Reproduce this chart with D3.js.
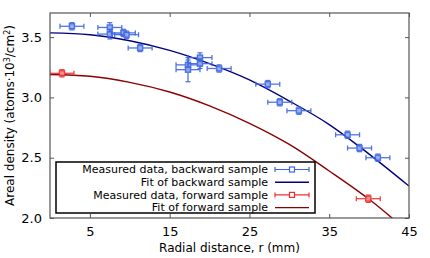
<!DOCTYPE html>
<html>
<head>
<meta charset="utf-8">
<script src="https://cdn.jsdelivr.net/npm/d3@7"></script>
<style>
  body { margin: 0; background: #fff; }
  text { font-family: "DejaVu Sans", sans-serif; fill: #000; }
</style>
</head>
<body>
<div id="chart"></div>
<script>
// measured data, backward sample: r (mm), density, errors
var backR    = [2.75, 7.5, 7.5, 9.2, 9.6, 11.3, 17.3, 17.3, 18.8, 18.8, 21.2, 27.3, 28.8, 31.2, 37.3, 38.8, 41.1];
var backV    = [3.59, 3.58, 3.525, 3.535, 3.52, 3.41, 3.27, 3.23, 3.33, 3.28, 3.24, 3.11, 2.96, 2.89, 2.69, 2.58, 2.50];
var backRErr = [1.5, 1.5, 1.5, 1.5, 1.5, 1.5, 1.5, 1.5, 1.5, 1.5, 1.5, 1.5, 1.5, 1.5, 1.5, 1.5, 1.5];
var backVErr = [0.03, 0.04, 0.04, 0.03, 0.03, 0.03, 0.04, 0.10, 0.04, 0.04, 0.03, 0.03, 0.03, 0.03, 0.03, 0.03, 0.03];

// measured data, forward sample
var fwdR    = [1.5, 39.9];
var fwdV    = [3.20, 2.16];
var fwdRErr = [1.5, 1.5];
var fwdVErr = [0.03, 0.03];

// fit curves
var fitR    = [0, 5, 10, 15, 20, 25, 30, 35, 40, 45];
var fitBack = [3.535, 3.52, 3.47, 3.39, 3.28, 3.145, 2.97, 2.775, 2.53, 2.265];
var fitFwd  = [3.19, 3.175, 3.125, 3.045, 2.93, 2.785, 2.61, 2.39, 2.155, 1.88];

var xTicks = [5, 15, 25, 35, 45];
var yTicks = [2.0, 2.5, 3.0, 3.5];

var legendLabels = ["Measured data, backward sample", "Fit of backward sample",
                    "Measured data, forward sample", "Fit of forward sample"];

var w = 430, h = 258;
var m = {left: 50, right: 21, top: 13, bottom: 40};
var iw = w - m.left - m.right, ih = h - m.top - m.bottom;

var svg = d3.select("#chart").append("svg")
    .attr("width", w).attr("height", h);

var x = d3.scaleLinear().domain([0, 45]).range([0, iw]);
var y = d3.scaleLinear().domain([2.0, 3.7]).range([ih, 0]);

var g = svg.append("g").attr("transform", "translate(" + m.left + "," + m.top + ")");

g.append("clipPath").attr("id", "clip")
  .append("rect").attr("width", iw).attr("height", ih);

// axes with inward ticks, mirrored top and right
var fmt = d3.format(".1f");
g.append("g").attr("transform", "translate(0," + ih + ")")
  .call(d3.axisBottom(x).tickValues(xTicks).tickSizeInner(-4).tickSizeOuter(0).tickPadding(9))
  .call(function(a) { a.select(".domain").remove(); a.selectAll("text").attr("font-size", 13); });
g.append("g")
  .call(d3.axisTop(x).tickValues(xTicks).tickSizeInner(-4).tickSizeOuter(0).tickFormat(""))
  .call(function(a) { a.select(".domain").remove(); });
g.append("g")
  .call(d3.axisLeft(y).tickValues(yTicks).tickFormat(fmt).tickSizeInner(-4).tickSizeOuter(0).tickPadding(8))
  .call(function(a) { a.select(".domain").remove(); a.selectAll("text").attr("font-size", 13); });
g.append("g").attr("transform", "translate(" + iw + ",0)")
  .call(d3.axisRight(y).tickValues(yTicks).tickSizeInner(-4).tickSizeOuter(0).tickFormat(""))
  .call(function(a) { a.select(".domain").remove(); });
g.selectAll(".tick line").attr("stroke", "#555");

var plot = g.append("g").attr("clip-path", "url(#clip)");

// fit lines
var line = d3.line().curve(d3.curveMonotoneX)
  .x(function(d) { return x(d[0]); })
  .y(function(d) { return y(d[1]); });

plot.append("path").datum(d3.zip(fitR, fitFwd))
  .attr("d", line).attr("fill", "none").attr("stroke", "#8b0000").attr("stroke-width", 1.4);
plot.append("path").datum(d3.zip(fitR, fitBack))
  .attr("d", line).attr("fill", "none").attr("stroke", "#000080").attr("stroke-width", 1.4);

function drawPoints(rs, vs, re, ve, color, fill) {
  var data = rs.map(function(r, i) { return {r: r, v: vs[i], re: re[i], ve: ve[i]}; });
  var pts = plot.append("g").selectAll("g").data(data).enter().append("g")
    .attr("stroke", color).attr("stroke-width", 1.3).attr("opacity", 0.9);
  pts.append("line")
    .attr("x1", function(d) { return x(d.r - d.re); }).attr("x2", function(d) { return x(d.r + d.re); })
    .attr("y1", function(d) { return y(d.v); }).attr("y2", function(d) { return y(d.v); });
  pts.append("line")
    .attr("x1", function(d) { return x(d.r); }).attr("x2", function(d) { return x(d.r); })
    .attr("y1", function(d) { return y(d.v - d.ve); }).attr("y2", function(d) { return y(d.v + d.ve); });
  // caps
  [-1, 1].forEach(function(s) {
    pts.append("line")
      .attr("x1", function(d) { return x(d.r + s * d.re); }).attr("x2", function(d) { return x(d.r + s * d.re); })
      .attr("y1", function(d) { return y(d.v) - 2.5; }).attr("y2", function(d) { return y(d.v) + 2.5; });
    pts.append("line")
      .attr("x1", function(d) { return x(d.r) - 2.5; }).attr("x2", function(d) { return x(d.r) + 2.5; })
      .attr("y1", function(d) { return y(d.v + s * d.ve); }).attr("y2", function(d) { return y(d.v + s * d.ve); });
  });
  pts.append("rect")
    .attr("x", function(d) { return x(d.r) - 2.5; }).attr("y", function(d) { return y(d.v) - 2.5; })
    .attr("width", 5).attr("height", 5).attr("fill", fill).attr("stroke-width", 1.5);
}

drawPoints(backR, backV, backRErr, backVErr, "#3f66e0", "#8fa6ee");
drawPoints(fwdR, fwdV, fwdRErr, fwdVErr, "#f03030", "#f59090");

// frame
g.append("rect").attr("width", iw).attr("height", ih)
  .attr("fill", "none").attr("stroke", "#555").attr("stroke-width", 1.2);

// legend
var lg = svg.append("g").attr("transform", "translate(56,162)");
lg.append("rect").attr("width", 259).attr("height", 51)
  .attr("fill", "#fff").attr("stroke", "#000").attr("stroke-width", 1.5);
var styles = [
  {color: "#3f66e0", fill: "#fff", marker: true},
  {color: "#000080", marker: false},
  {color: "#f03030", fill: "#fff", marker: true},
  {color: "#8b0000", marker: false}
];
legendLabels.forEach(function(lab, i) {
  var yy = 7.5 + i * 12.7;
  lg.append("text").attr("x", 212).attr("y", yy).attr("dy", "0.35em")
    .attr("text-anchor", "end").attr("font-size", 11).text(lab);
  var s = styles[i];
  var it = lg.append("g").attr("stroke", s.color).attr("stroke-width", s.marker ? 1.2 : 1.4);
  it.append("line").attr("x1", 219).attr("x2", 253).attr("y1", yy).attr("y2", yy);
  if (s.marker) {
    it.append("line").attr("x1", 219).attr("x2", 219).attr("y1", yy - 2.5).attr("y2", yy + 2.5);
    it.append("line").attr("x1", 253).attr("x2", 253).attr("y1", yy - 2.5).attr("y2", yy + 2.5);
    it.append("rect").attr("x", 233.5).attr("y", yy - 2.5).attr("width", 5).attr("height", 5)
      .attr("fill", s.fill);
  }
});

// axis titles
svg.append("text").attr("x", m.left + iw / 2).attr("y", 252)
  .attr("text-anchor", "middle").attr("font-size", 12).text("Radial distance, r (mm)");

var yl = svg.append("text").attr("transform", "translate(14," + (m.top + ih / 2) + ") rotate(-90)")
  .attr("text-anchor", "middle").attr("font-size", 12);
yl.append("tspan").text("Areal density (atoms\u00b710");
yl.append("tspan").attr("baseline-shift", "super").attr("font-size", 8).text("3");
yl.append("tspan").text("/cm");
yl.append("tspan").attr("baseline-shift", "super").attr("font-size", 8).text("2");
yl.append("tspan").text(")");
</script>
</body>
</html>
